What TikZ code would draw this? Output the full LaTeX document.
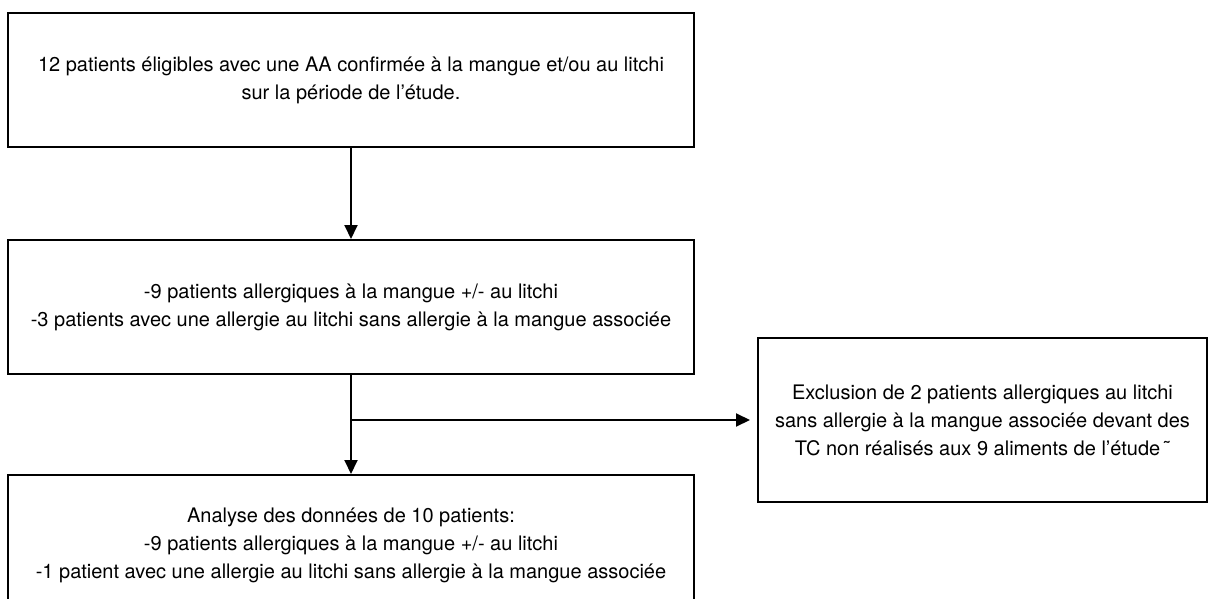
\documentclass[tikz,border=0pt]{standalone}
\usepackage{fontspec}
\setmainfont{TeX Gyre Heros}
\usepackage{tikz}
\usetikzlibrary{arrows.meta,positioning}

\begin{document}
\begin{tikzpicture}[x=0.5pt,y=0.5pt,node distance=45pt,
  box/.style={draw,line width=1pt,minimum width=343pt,minimum height=67pt,
    align=center,inner sep=0pt,font=\fontsize{10}{14}\selectfont},
  >={Triangle[length=7pt,width=6.5pt]}]
  \useasboundingbox (0,0) rectangle (1211,-599);
  \node (elig) [box] at (351,-80) {12 patients éligibles avec une AA confirmée à la mangue et/ou au litchi\\sur la période de l’étude.};
  \node (groups) [box, below=45.5pt of elig] {-9 patients allergiques à la mangue +/- au litchi\\-3 patients avec une allergie au litchi sans allergie à la mangue associée};
  \node (analyse) [box, below=49.5pt of groups, minimum height=70pt] {Analyse des données de 10 patients:\\-9 patients allergiques à la mangue +/- au litchi\\-1 patient avec une allergie au litchi sans allergie à la mangue associée};
  \coordinate [below=22.5pt of groups.south] (split);
  \node (excl) [box, right=203pt of split, minimum width=224.5pt, minimum height=82pt] {Exclusion de 2 patients allergiques au litchi\\sans allergie à la mangue associée devant des\\TC non réalisés aux 9 aliments de l’étude\,˜};
  \path[line width=1pt]
    (elig) edge[->] (groups)
    (groups) edge[->] (analyse)
    (split) edge[->,shorten >=3.5pt] (excl);
\end{tikzpicture}
\end{document}
